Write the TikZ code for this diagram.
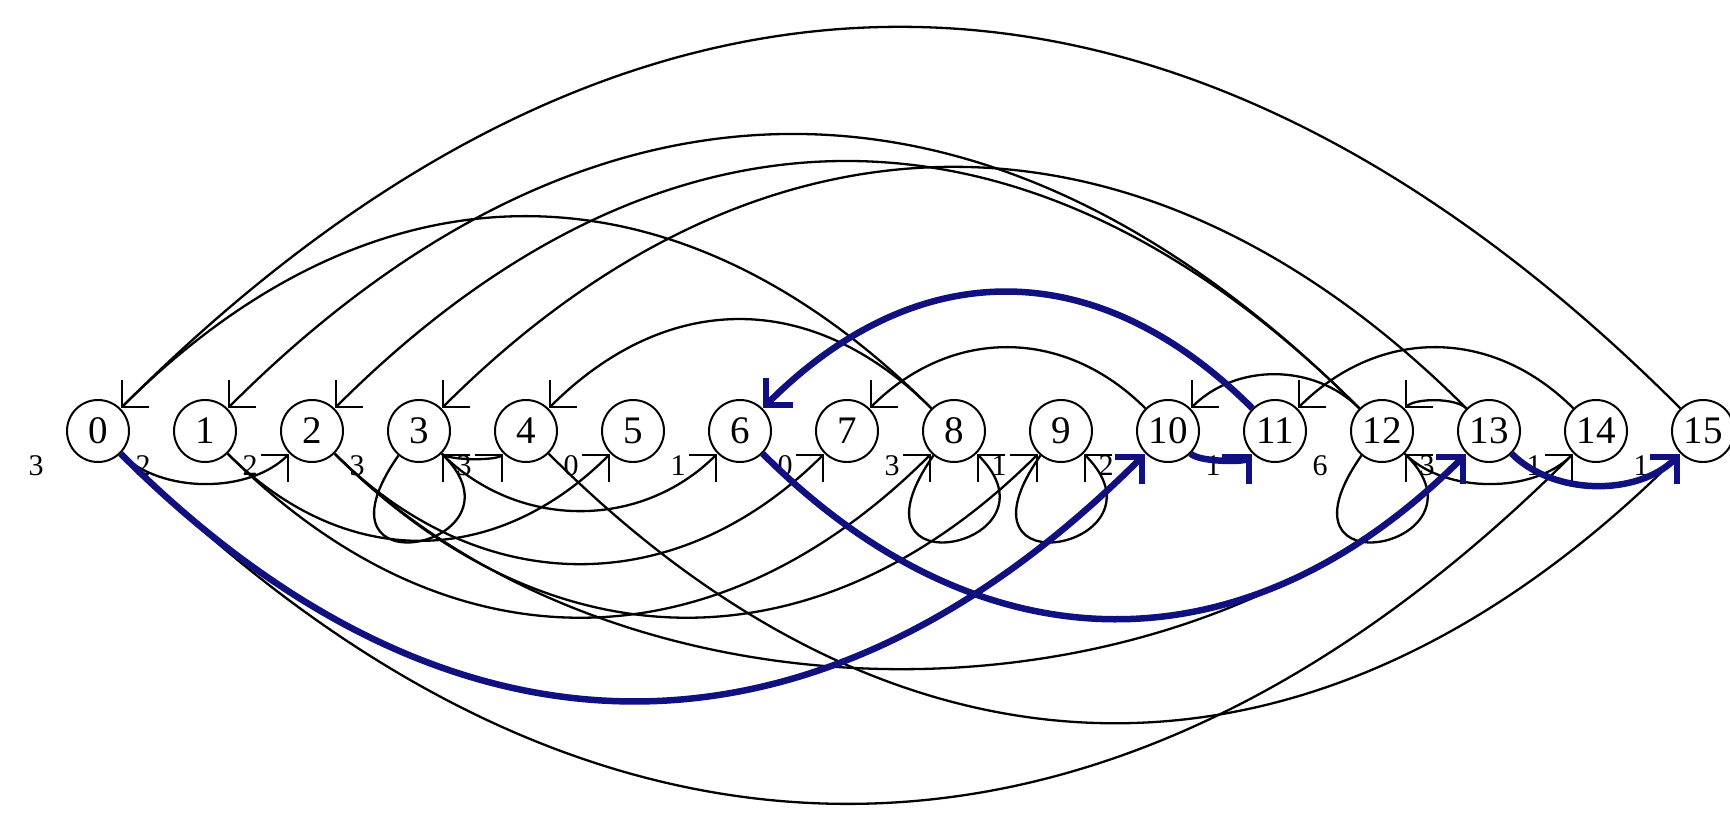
\documentclass[tikz,border=0pt]{standalone}
\usepackage{fontspec}
\setmainfont{Liberation Serif}
\usetikzlibrary{arrows.meta}
\definecolor{pathblue}{RGB}{16,16,128}
\begin{document}
\begin{tikzpicture}[x=1pt,y=1pt,
  st/.style={circle,draw,line width=2pt,minimum size=62pt,inner sep=0pt,font=\fontsize{39}{39}\selectfont},
  lbl/.style={font=\fontsize{30}{30}\selectfont,inner sep=0pt},
  e/.style={line width=2.3pt,-{Straight Barb[length=19pt,width=38pt]}},
  hl/.style={line width=6.5pt,draw=pathblue,-{Straight Barb[length=19pt,width=38pt]}}]
\useasboundingbox (0,0) rectangle (1730,817);
\foreach \i in {0,...,15} \node[st] (n\i) at (98+107*\i,386) {\i};
% labels
\node[lbl] (lx) at (36,351) {3};
\node[lbl] (l0) at (143,351) {2};
\node[lbl] (l1) at (250,351) {2};
\node[lbl] (l2) at (357,351) {3};
\node[lbl] (l3) at (464,351) {3};
\node[lbl] (l4) at (571,351) {0};
\node[lbl] (l5) at (678,351) {1};
\node[lbl] (l6) at (785,351) {0};
\node[lbl] (l7) at (892,351) {3};
\node[lbl] (l8) at (999,351) {1};
\node[lbl] (l9) at (1106,351) {2};
\node[lbl] (l10) at (1213,351) {1};
\node[lbl] (l11) at (1320,351) {6};
\node[lbl] (l12) at (1427,351) {3};
\node[lbl] (l13) at (1534,351) {1};
\node[lbl] (l14) at (1641,351) {1};
% top arcs (right to left)
\draw[e] (n15.135) .. controls +(135:719) and +(45:719) .. (n0.45);
\draw[e] (n8.135) .. controls +(135:362) and +(45:362) .. (n0.45);
\draw[e] (n12.135) .. controls +(135:517) and +(45:517) .. (n1.45);
\draw[e] (n12.135) .. controls +(135:466) and +(45:466) .. (n2.45);
\draw[e] (n13.135) .. controls +(135:455) and +(45:455) .. (n3.45);
\draw[e] (n8.135) .. controls +(135:168) and +(45:168) .. (n4.45);
\draw[e] (n10.135) .. controls +(135:115) and +(45:115) .. (n7.45);
\draw[e] (n12.135) .. controls +(135:64) and +(45:64) .. (n10.45);
\draw[e] (n14.135) .. controls +(135:115) and +(45:115) .. (n11.45);
\draw[e] (n13.135) .. controls +(135:15) and +(45:15) .. (n12.45);
% bottom arcs (left to right)
\draw[e] (n0.-45) .. controls +(-45:57) and +(-135:57) .. (n2.-135);
\draw[e] (n0.-45) .. controls +(-45:660) and +(-135:660) .. (n14.-135);
\draw[e] (n1.-45) .. controls +(-45:164) and +(-135:164) .. (n5.-135);
\draw[e] (n1.-45) .. controls +(-45:309) and +(-135:309) .. (n8.-135);
\draw[e] (n2.-45) .. controls +(-45:309) and +(-135:309) .. (n9.-135);
\draw[e] (n2.-45) .. controls +(-45:208) and +(-135:208) .. (n7.-135);
\draw[e] (n2.-45) .. controls +(-45:406) and +(-135:406) .. (n13.-135);
\draw[e] (n3.-45) .. controls +(-45:10) and +(-135:10) .. (n4.-135);
\draw[e] (n3.-45) .. controls +(-45:108) and +(-135:108) .. (n6.-135);
\draw[e] (n4.-45) .. controls +(-45:508) and +(-135:508) .. (n15.-135);
\draw[e] (n12.-45) .. controls +(-45:57) and +(-135:57) .. (n14.-135);
% loops
\foreach \k in {3,8,9,12}
  \draw[e] (n\k.-130) .. controls +(-125:170) and +(-45:130) .. (n\k.-45);
% highlighted path
\draw[hl] (n0.-45) .. controls +(-45:466) and +(-135:466) .. (n10.-135);
\draw[hl] (n10.-45) .. controls +(-45:12) and +(-135:12) .. (n11.-135);
\draw[hl] (n11.135) .. controls +(135:219) and +(45:219) .. (n6.45);
\draw[hl] (n6.-45) .. controls +(-45:311) and +(-135:311) .. (n13.-135);
\draw[hl] (n13.-45) .. controls +(-45:60) and +(-135:60) .. (n15.-135);
\end{tikzpicture}
\end{document}
